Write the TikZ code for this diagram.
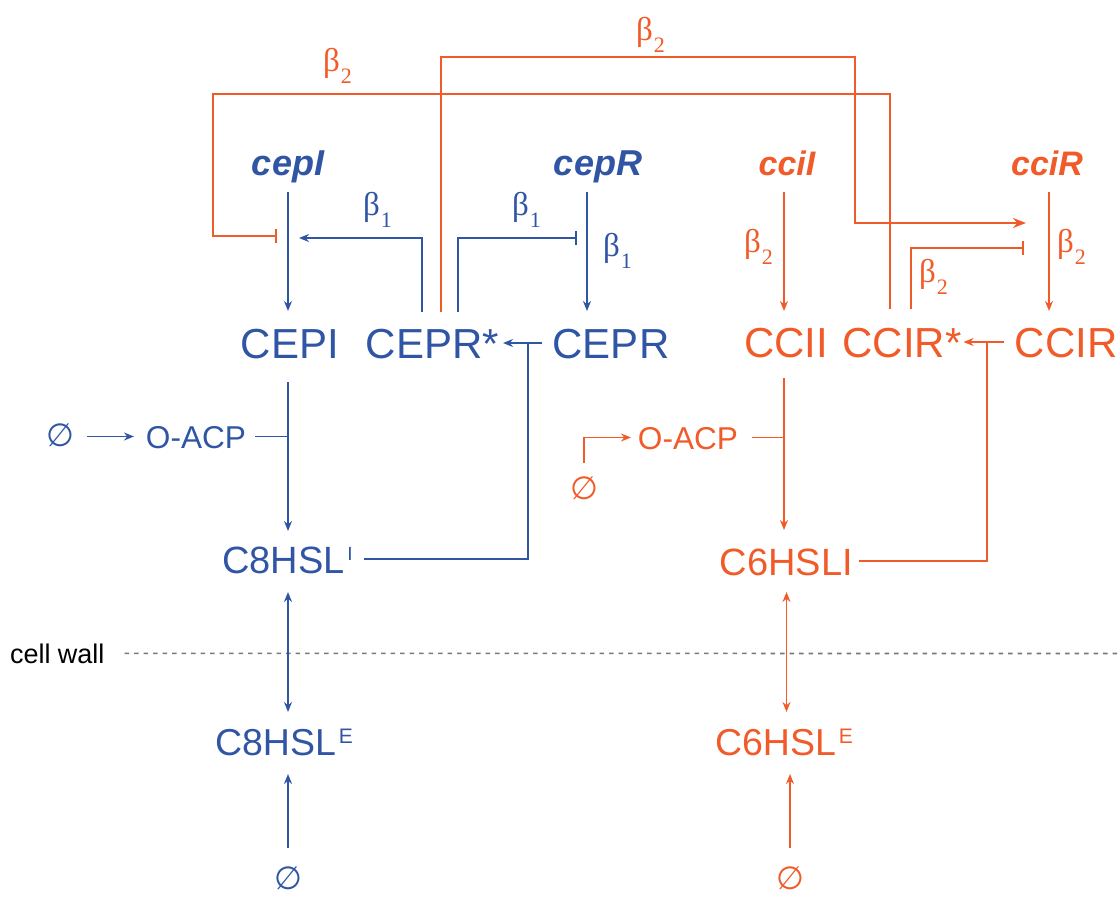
\documentclass[tikz,border=0pt]{standalone}
\usepackage{fontspec}
\setmainfont{Liberation Sans}
\newfontfamily\serifb{Liberation Serif}
\newfontfamily\djv{DejaVu Sans}
\usetikzlibrary{arrows.meta,calc}
\definecolor{cblue}{RGB}{47,85,164}
\definecolor{corange}{RGB}{241,90,41}
\definecolor{cgray}{RGB}{120,120,120}
\newcommand{\fsz}[1]{\fontsize{#1}{#1}\selectfont}
\newcommand{\betasub}[1]{{\serifb\fsz{33}β\kern1pt\raisebox{-12pt}{\fsz{22}#1}}}
\begin{document}
\begin{tikzpicture}[x=1pt,y=-1pt,
  every node/.style={inner sep=0pt,outer sep=0pt},
  gene/.style={anchor=base,font=\fsz{36}\bfseries\itshape,text height=25pt,text depth=8pt},
  ogene/.style={gene,font=\fsz{34}\bfseries\itshape},
  prot/.style={anchor=base,font=\fsz{42},text height=30pt,text depth=0pt},
  hsl/.style={anchor=base west,font=\fsz{38},text height=28pt,text depth=0pt},
  acp/.style={anchor=base,font=\fsz{31.6},text height=23pt,text depth=0pt},
  betalab/.style={anchor=base west},
  nul/.style={anchor=center,font=\djv\fsz{32},text height=22pt,text depth=4pt},
  conn/.style={line width=1.9pt},
  act/.style={conn,-{Stealth[length=10pt,width=8pt]}},
  bigact/.style={conn,-{Stealth[length=13pt,width=10pt]}},
  inh/.style={conn,-{Bar[width=14pt]}},
  both/.style={conn,{Stealth[length=10pt,width=8pt]}-{Stealth[length=10pt,width=8pt]}},
]
\useasboundingbox (0,0) rectangle (1120,899);

% levels
\coordinate (lvA) at (0,238);
\coordinate (lvD) at (0,223);
\coordinate (lvE) at (0,248);
\coordinate (lvF) at (0,236);
\coordinate (bendTop) at (855,57);
\coordinate (bendLeft) at (213,94);

% genes
\node[gene,text=cblue] (cepI) at (288,175) {cepI};
\node[gene,text=cblue] (cepR) at (598,175) {cepR};
\node[ogene,text=corange] (cciI) at (787,175) {cciI};
\node[ogene,text=corange] (cciR) at (1047,175) {cciR};

% proteins
\node[prot,text=cblue] (CEPI) at (290,358) {CEPI};
\node[prot,text=cblue] (CEPRs) at (432.5,358) {CEPR*};
\node[prot,text=cblue] (CEPR) at (611,358) {CEPR};
\node[prot,text=corange] (CCII) at (786,357) {CCII};
\node[prot,text=corange] (CCIRs) at (902,357) {CCIR*};
\node[prot,text=corange] (CCIR) at (1066,357) {CCIR};

% signals
\node[hsl,text=cblue] (C8I) at (222,573) {C8HSL\kern3pt\raisebox{13pt}{\fsz{19}I}};
\node[hsl,text=corange,anchor=base] (C6I) at (786.5,575) {C6HSLI};
\node[hsl,text=cblue,font=\fsz{37.5}] (C8E) at (215,755) {C8HSL\kern3pt\raisebox{12pt}{\fsz{21}E}};
\node[hsl,text=corange,font=\fsz{37.5}] (C6E) at (715,755) {C6HSL\kern3pt\raisebox{12pt}{\fsz{21}E}};

\node[acp,text=cblue] (acpB) at (196,448) {O-ACP};
\node[acp,text=corange] (acpO) at (688,449) {O-ACP};

\node[nul,text=cblue] (n1) at (60.5,437) {∅};
\node[nul,text=corange] (n2) at (584,490) {∅};
\node[nul,text=cblue] (n3) at (288,880) {∅};
\node[nul,text=corange] (n4) at (790,880) {∅};

% cell wall
\node[anchor=base west,font=\fsz{27}] (cw) at (10,663) {cell wall};
\draw[cgray,line width=1.6pt,dash pattern=on 4.5pt off 5pt] ($(cw.east)+(20,0)$ |- 0,653.5) -- (1120,653.5);

% beta labels
\node[betalab,text=corange] (b2top) at (636,41) {\betasub{2}};
\node[betalab,text=corange] (b2left) at (323,72) {\betasub{2}};
\node[betalab,text=cblue] (b1a) at (363,215) {\betasub{1}};
\node[betalab,text=cblue] (b1b) at (512,215) {\betasub{1}};
\node[betalab,text=cblue] (b1c) at (603,256) {\betasub{1}};
\node[betalab,text=corange] (b2a) at (744,252) {\betasub{2}};
\node[betalab,text=corange] (b2b) at (1057,252) {\betasub{2}};
\node[betalab,text=corange] (b2c) at (919,282) {\betasub{2}};

% ---- blue connectors
\draw[act,cblue] ($(cepI.south)+(0,9)$) -- ($(cepI.south |- CEPI.north)+(0,-17)$);
\draw[act,cblue] ($(CEPRs.north)+(-10.8,-16)$) |- ($(cepI.south |- lvA)+(11,0)$);
\draw[inh,cblue] ($(CEPRs.north)+(25.2,-16)$) |- ($(cepR.south |- lvA)+(-21,0)$);
\draw[act,cblue] ($(cepR.south)+(-11,9)$) -- ($(cepR.south |- CEPR.north)+(-11,-17)$);
\draw[act,cblue] ($(CEPR.west)+(-11,0)$) -- ($(CEPRs.east)+(4,0)$);
\draw[conn,cblue] ($(C8I.east)+(11,0)$) -| ($(CEPR.west)+(-24.7,0)$);
\draw[act,cblue] ($(CEPI.south -| cepI.south)+(0,24)$) -- ($(C8I.north -| cepI.south)+(0,-14)$);
\draw[conn,cblue] ($(acpB.east)+(9,0)$) -- (acpB.east -| cepI.south);
\draw[act,cblue] ($(n1.center |- acpB.west)+(26,0)$) -- ($(acpB.west)+(-12,0)$);
\draw[both,cblue] ($(C8I.south -| cepI.south)+(0,19)$) -- ($(C8E.north -| cepI.south)+(0,-15)$);
\draw[act,cblue] ($(n3.center)+(0,-32)$) -- ($(C8E.south -| n3.center)+(0,19)$);

% ---- orange connectors
\draw[act,corange] ($(cciI.south)+(-3,9)$) -- ($(cciI.south |- CCII.north)+(-3,-16)$);
\draw[act,corange] ($(cciR.south)+(2,9)$) -- ($(cciR.south |- CCIR.north)+(2,-16)$);
\draw[act,corange] ($(CCIR.west)+(-11,0)$) -- ($(CCIRs.east)+(2,0)$);
\draw[conn,corange] ($(C6I.east)+(6,0)$) -| ($(CCIR.west)+(-27.7,0)$);
\draw[act,corange] ($(CCII.south)+(-2,21)$) -- ($(CCII.south |- C6I.north)+(-2,-17)$);
\draw[conn,corange] ($(acpO.east)+(14,0)$) -- ($(acpO.east -| CCII.south)+(-2,0)$);
\draw[act,corange] ($(n2.center)+(0,-27)$) |- ($(acpO.west)+(-7,0)$);
\draw[both,corange] ($(C6I.south)+(0,17)$) -- ($(C6I.south |- C6E.north)+(0,-15)$);
\draw[act,corange] ($(n4.center)+(0,-32)$) -- ($(C6E.south -| n4.center)+(0,19)$);

\draw[bigact,corange] ($(CEPRs.north)+(8.2,-16)$) |- (bendTop) |- ($(cciR.south |- lvD)+(-21,0)$);
\draw[inh,corange] ($(CCIRs.north)+(-12,-18)$) |- (bendLeft) |- ($(cepI.south |- lvF)+(-11,0)$);
\draw[inh,corange] ($(CCIRs.north)+(9,-18)$) |- ($(cciR.south |- lvE)+(-23,0)$);
\end{tikzpicture}
\end{document}
